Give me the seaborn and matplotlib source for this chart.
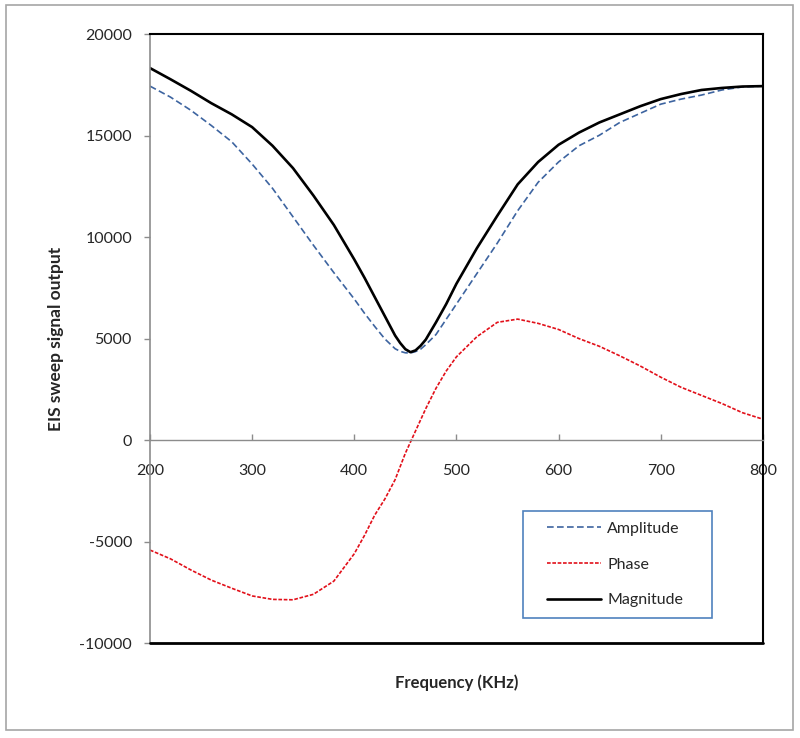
import pandas as pd
import seaborn as sns
from matplotlib import pyplot as plt
import matplotlib.patches as mpatches

# values
freq = [200, 220, 240, 260, 280, 300, 320, 340, 360, 380, 400, 410, 420, 430,
        440, 445, 450, 455, 460, 465, 470, 480, 490, 500, 520, 540, 560, 580,
        600, 620, 640, 660, 680, 700, 720, 740, 760, 780, 800]

amplitude = [17440, 16900, 16250, 15500, 14700, 13600, 12400, 11000, 9600, 8250,
             6950, 6250, 5600, 4980, 4500, 4370, 4300, 4290, 4360, 4480, 4700,
             5200, 5950, 6700, 8200, 9700, 11300, 12700, 13700, 14500, 15020,
             15650, 16100, 16550, 16800, 17000, 17250, 17400, 17440]

phase = [-5420, -5850, -6400, -6900, -7300, -7680, -7850, -7870, -7600, -6950,
         -5600, -4700, -3700, -2900, -1950, -1300, -650, -100, 450, 1000, 1550,
         2550, 3400, 4100, 5090, 5800, 5960, 5750, 5450, 5000, 4620, 4150, 3650,
         3100, 2600, 2200, 1800, 1350, 1030]

magnitude = [18330, 17780, 17210, 16600, 16050, 15420, 14500, 13400, 12050, 10600,
             8900, 8000, 7050, 6100, 5150, 4780, 4480, 4330, 4420, 4650, 4950,
             5800, 6700, 7700, 9450, 11050, 12600, 13700, 14550, 15150, 15650,
             16050, 16450, 16800, 17050, 17250, 17350, 17420, 17440]

x_ticks = [200, 300, 400, 500, 600, 700, 800]
y_ticks = [-10000, -5000, 0, 5000, 10000, 15000, 20000]

df = pd.DataFrame({'freq': freq, 'Amplitude': amplitude,
                   'Phase': phase, 'Magnitude': magnitude})

sns.set_style('white')
plt.rcParams['font.family'] = ['Lato', 'DejaVu Sans']
plt.rcParams['axes.unicode_minus'] = False

fig = plt.figure(figsize=(8, 7.38), dpi=100)
ax = fig.add_axes([0.1875, 0.1287, 0.766, 0.825])

# outer chart border
fig.patches.append(mpatches.Rectangle((0.0075, 0.0108), 0.984, 0.982,
                                      transform=fig.transFigure, fill=False,
                                      edgecolor='#a6a6a6', linewidth=1.2))

sns.lineplot(data=df, x='freq', y='Amplitude', ax=ax, color='#3d64a0',
             linewidth=1.2, linestyle=(0, (4, 2)), label='Amplitude')
sns.lineplot(data=df, x='freq', y='Phase', ax=ax, color='#e2101a',
             linewidth=1.2, linestyle=(0, (2.2, 1)), label='Phase')
sns.lineplot(data=df, x='freq', y='Magnitude', ax=ax, color='black',
             linewidth=1.9, label='Magnitude')

ax.set_xlim(200, 800)
ax.set_ylim(-10000, 20000)
ax.set_xticks(x_ticks)
ax.set_yticks(y_ticks)

# plot area frame (black) plus grey value axis
ax.spines['top'].set_color('black')
ax.spines['right'].set_color('black')
ax.spines['top'].set_linewidth(1.5)
ax.spines['right'].set_linewidth(1.5)
ax.spines['bottom'].set_position(('data', 0))
ax.spines['bottom'].set_color('#8c8c8c')
ax.spines['bottom'].set_linewidth(1.0)
ax.spines['left'].set_color('#8c8c8c')
ax.spines['left'].set_linewidth(1.2)
ax.plot([0, 1], [0, 0], transform=ax.transAxes, color='black',
        linewidth=2.0, clip_on=False, zorder=5)

ax.tick_params(axis='x', direction='in', length=4, width=1, color='#8c8c8c',
               pad=17, labelsize=11.5, labelcolor='#262626', bottom=True)
ax.tick_params(axis='y', direction='out', length=4, width=1, color='#8c8c8c',
               pad=9, labelsize=11.5, labelcolor='#262626', left=True)

ax.set_xlabel('Frequency (KHz)', fontsize=12, fontweight='bold')
ax.xaxis.set_label_coords(0.5, -0.0515)
ax.set_ylabel('EIS sweep signal output', fontsize=12.5, fontweight='bold')
ax.yaxis.set_label_coords(-0.14, 0.5)

handles, labels = ax.get_legend_handles_labels()
ax.legend(handles, labels, loc='center', bbox_to_anchor=(0.7586, 0.129),
          frameon=False, fontsize=11.5, handlelength=3.4, handletextpad=0.4,
          labelspacing=1.35, borderpad=0)
ax.add_patch(mpatches.Rectangle((0.6085, 0.041), 0.3085, 0.176,
                                transform=ax.transAxes, fill=False,
                                edgecolor='#4f81bd', linewidth=1.2))

fig.savefig('out.png', dpi=100)
